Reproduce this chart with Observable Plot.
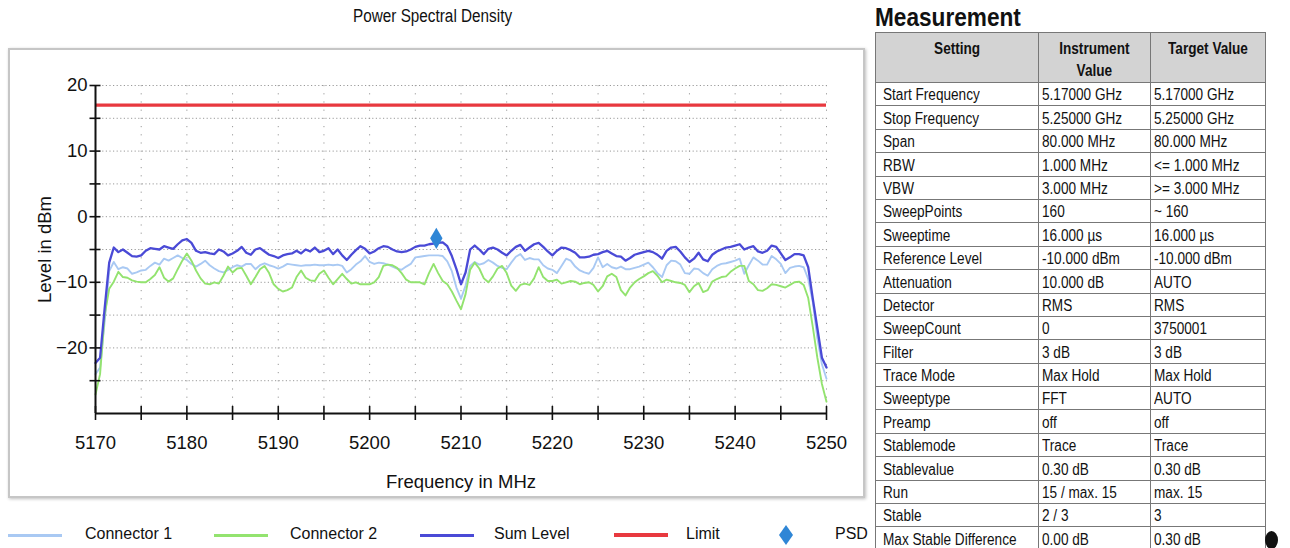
<!DOCTYPE html>
<html>
<head>
<meta charset="utf-8">
<script src="https://cdn.jsdelivr.net/npm/d3@7"></script>
<script src="https://cdn.jsdelivr.net/npm/@observablehq/plot@0.6"></script>
<style>
  html, body { margin: 0; padding: 0; }
  body { width: 1290px; height: 548px; overflow: hidden; background: #fff; position: relative;
         font-family: "Liberation Sans", Arial, sans-serif; color: #111; }
  .nx { display: inline-block; transform: scaleX(0.85); transform-origin: left center; white-space: nowrap; }
  .nxc { display: inline-block; transform: scaleX(0.85); transform-origin: center center; white-space: nowrap; }
  #title { position: absolute; left: 0; width: 866px; top: 6px; text-align: center; font-size: 18px; }
  #frame { position: absolute; left: 8px; top: 48px; width: 853px; height: 446px; border: 2px solid #c6c6c6;
           box-shadow: 1px 1px 3px rgba(0,0,0,0.25); }
  #chart { position: absolute; left: 0; top: 0; }
  #legend { position: absolute; left: 0; top: 520px; width: 880px; height: 28px; font-size: 16px; }
  .lg-line { position: absolute; top: 14px; height: 3px; width: 54px; }
  .lg-text { position: absolute; top: 5px; white-space: nowrap; }
  .lg-diamond { position: absolute; left: 779px; top: 5px; width: 14px; height: 20px; background: #2f86d6;
                clip-path: polygon(50% 0, 100% 50%, 50% 100%, 0 50%); }
  #mtitle { position: absolute; left: 875px; top: 2px; font-size: 26px; font-weight: bold; }
  #mtable { position: absolute; left: 875px; top: 32px; width: 390px; border-collapse: collapse; font-size: 16px; table-layout: fixed; }
  #mtable td, #mtable th { border: 1px solid #777; padding: 0 3px; white-space: nowrap; overflow: hidden; }
  #mtable th { background: #d3d3d3; font-weight: bold; height: 48px; vertical-align: top; padding-top: 5px;
               line-height: 22px; box-sizing: border-box; }
  #mtable td { height: 23.4px; box-sizing: border-box; vertical-align: bottom; line-height: 18px; padding-bottom: 1px; }
  #mtable td:first-child { padding-left: 7px; }
  #blob { position: absolute; left: 1265px; top: 531px; width: 13px; height: 18px; border-radius: 50%; background: #111; }
</style>
</head>
<body>
<div id="title"><span class="nxc">Power Spectral Density</span></div>
<div id="frame"></div>
<div id="chart"></div>
<div id="legend"></div>
<div id="mtitle"><span class="nx" style="transform: scaleX(0.87)">Measurement</span></div>
<table id="mtable"></table>
<div id="blob"></div>
<script>
// ---------- data ----------
const freqMHz = d3.range(5170, 5250.25, 0.5); // 161 sweep points, 5170 .. 5250 MHz

const sumLevel = [
  -22.3, -21.5, -14, -7, -4.7, -5.4, -5.0, -5.5, -6.0, -6.1,
  -5.9, -5.2, -4.8, -4.9, -5.0, -4.5, -4.7, -4.9, -4.2, -3.6,
  -3.4, -4.0, -5.2, -5.5, -5.4, -5.6, -5.7, -5.0, -5.3, -5.9,
  -5.6, -5.2, -4.6, -5.5, -5.8, -5.0, -4.8, -5.3, -5.8, -6.0,
  -6.3, -5.9, -5.7, -5.6, -5.2, -5.6, -5.0, -5.3, -4.7, -5.4,
  -5.2, -4.8, -5.7, -5.0, -5.9, -6.6, -5.8, -5.1, -4.5, -4.9,
  -5.6, -5.3, -4.8, -4.5, -4.6, -5.0, -5.3, -5.4, -5.3, -5.0,
  -4.6, -4.4, -4.4, -4.2, -4.1, -4.0, -3.9, -4.5, -6.0, -8.0,
  -10.3, -8.5, -5.0, -4.4, -5.0, -5.7, -4.9, -4.7, -5.0, -5.5,
  -5.9, -5.2, -4.6, -4.3, -5.2, -4.7, -4.2, -4.0, -4.6, -5.3,
  -5.9, -5.2, -4.7, -4.8, -5.1, -5.5, -6.2, -6.2, -6.1, -5.8,
  -5.7, -5.4, -5.2, -5.6, -6.0, -6.1, -6.7, -6.3, -5.8, -5.6,
  -5.4, -5.2, -5.4, -5.8, -6.4, -5.2, -4.7, -4.6, -5.3, -6.2,
  -6.9, -6.4, -5.5, -6.5, -6.8, -5.8, -5.3, -5.0, -4.7, -4.6,
  -4.4, -4.2, -5.0, -4.7, -4.5, -5.3, -5.5, -5.2, -4.4, -4.6,
  -5.6, -6.6, -6.2, -5.7, -5.7, -5.9, -7.7, -12.5, -17, -21.5,
  -23.0
];

const connector1 = [
  -24.0, -23.0, -16, -8.3, -6.9, -8.0, -7.7, -7.9, -8.7, -8.5,
  -8.2, -8.1, -7.5, -7.0, -7.3, -6.4, -6.7, -6.3, -5.9, -6.3,
  -6.6, -7.2, -7.6, -7.2, -6.7, -7.4, -7.9, -8.3, -8.5, -8.1,
  -7.7, -7.4, -7.6, -7.2, -7.2, -8.0, -7.4, -7.1, -7.4, -7.6,
  -7.9, -7.6, -7.2, -7.3, -7.4, -7.5, -7.4, -7.4, -7.3, -7.4,
  -7.4, -7.3, -7.4, -7.3, -7.5, -8.5, -8.0, -7.3, -6.8, -6.0,
  -6.9, -7.2, -7.0, -7.1, -7.3, -7.6, -7.9, -8.1, -7.6, -7.2,
  -6.2, -6.1, -6.0, -5.9, -5.9, -5.9, -6.0, -6.8, -8.3, -10.8,
  -12.5, -10.5, -7.5, -6.9, -7.3, -7.1, -6.6, -7.0, -7.5, -7.8,
  -8.0, -7.0, -6.1, -5.7, -6.6, -6.3, -6.5, -6.5, -7.4, -7.9,
  -8.1, -8.6, -7.5, -6.4, -6.7, -7.6, -8.2, -8.5, -8.7, -7.8,
  -6.2, -7.7, -7.2, -7.7, -7.9, -7.6, -8.0, -8.0, -7.8, -7.6,
  -7.3, -7.0, -7.7, -8.6, -9.2, -7.4, -6.7, -6.8, -7.3, -8.6,
  -8.7, -7.9, -8.0, -8.6, -9.0, -8.0, -7.5, -7.2, -7.1, -6.9,
  -6.7, -6.4, -8.7, -7.4, -6.2, -6.7, -7.3, -7.3, -6.0, -6.5,
  -7.2, -8.6, -7.8, -7.6, -7.5, -7.7, -9.5, -13.0, -18.5, -22.5,
  -24.7
];

const connector2 = [
  -27.1, -24, -15, -11, -9.9, -8.4, -9.2, -9.3, -9.7, -9.9,
  -10.0, -10.0, -9.5, -8.9, -7.7, -9.3, -9.9, -9.4, -8.0, -6.7,
  -5.6, -6.7, -8.2, -9.4, -10.2, -10.3, -10.0, -10.2, -9.0, -7.6,
  -8.5, -7.9, -7.8, -9.0, -10.3, -9.2, -8.0, -7.5, -8.6, -10.3,
  -11.0, -11.4, -11.2, -10.8, -9.2, -8.2, -9.3, -9.7, -9.8, -8.7,
  -8.2, -9.3, -10.3, -9.5, -8.7, -9.5, -10.2, -10.0, -10.3, -10.3,
  -10.3, -10.0, -9.2, -7.5, -7.3, -7.4, -7.8, -8.6, -9.6, -10.0,
  -10.0, -10.0, -10.3, -8.6, -7.2, -8.6, -9.8, -10.3, -11.4, -12.8,
  -14.1, -11.8, -8.1, -7.0, -7.9, -9.4, -10.0, -9.1, -7.9, -7.5,
  -8.6, -10.5, -11.3, -10.4, -10.2, -10.4, -9.4, -7.7, -9.2, -9.8,
  -9.8, -9.6, -10.2, -10.0, -9.8, -9.9, -10.3, -10.1, -10.0, -10.4,
  -11.4, -10.6, -9.1, -8.7, -9.2, -11.2, -12.0, -10.8, -10.0, -9.5,
  -9.1, -8.6, -8.3, -9.0, -10.0, -9.6, -9.8, -10.0, -10.1, -10.4,
  -11.5, -10.6, -10.1, -11.5, -11.2, -9.9, -9.5, -9.2, -9.1, -8.4,
  -7.9, -7.5, -7.5, -9.8, -10.3, -11.2, -11.3, -10.9, -10.3, -10.4,
  -10.6, -10.8, -10.4, -10.0, -9.9, -10.4, -12.4, -16.8, -21.5, -25.5,
  -28.2
];

const limitLevel = 17;
const psdFreq = [5207.3];
const psdLevel = [-3.3];

const xGridTicks = [5175, 5180, 5185, 5190, 5195, 5200, 5205, 5210, 5215, 5220, 5225, 5230, 5235, 5240, 5245, 5250];
const xTickMarks = [5170, 5175, 5180, 5185, 5190, 5195, 5200, 5205, 5210, 5215, 5220, 5225, 5230, 5235, 5240, 5245, 5250];
const xTickLabels = [5170, 5180, 5190, 5200, 5210, 5220, 5230, 5240, 5250];
const yGridTicks = [-25, -20, -15, -10, -5, 0, 5, 10, 15, 20];
const yTickMarks = [-25, -20, -15, -10, -5, 0, 5, 10, 15, 20];
const yTickLabels = [-20, -10, 0, 10, 20];

const seriesNames = ["Connector 1", "Connector 2", "Sum Level", "Limit", "PSD"];
const seriesColors = ["#a9c9f3", "#93e36f", "#4a4ad6", "#e8393f", "#2f86d6"];

const tableHeader = ["Setting", "Instrument<br>Value", "Target Value"];
const settingNames = ["Start Frequency", "Stop Frequency", "Span", "RBW", "VBW", "SweepPoints", "Sweeptime",
  "Reference Level", "Attenuation", "Detector", "SweepCount", "Filter", "Trace Mode", "Sweeptype", "Preamp",
  "Stablemode", "Stablevalue", "Run", "Stable", "Max Stable Difference"];
const instrumentValues = ["5.17000 GHz", "5.25000 GHz", "80.000 MHz", "1.000 MHz", "3.000 MHz", "160", "16.000 µs",
  "-10.000 dBm", "10.000 dB", "RMS", "0", "3 dB", "Max Hold", "FFT", "off", "Trace", "0.30 dB", "15 / max. 15", "2 / 3", "0.00 dB"];
const targetValues = ["5.17000 GHz", "5.25000 GHz", "80.000 MHz", "<= 1.000 MHz", ">= 3.000 MHz", "~ 160", "16.000 µs",
  "-10.000 dBm", "AUTO", "RMS", "3750001", "3 dB", "Max Hold", "AUTO", "off", "Trace", "0.30 dB", "max. 15", "3", "0.30 dB"];

// ---------- chart ----------
const rows = freqMHz.map((f, i) => ({f, c1: connector1[i], c2: connector2[i], s: sumLevel[i]}));
const psd = psdFreq.map((f, i) => ({f, v: psdLevel[i]}));
const fontFam = '"Liberation Sans", Arial, sans-serif';

const chart = Plot.plot({
  width: 870,
  height: 500,
  marginLeft: 95,
  marginRight: 44,
  marginTop: 85,
  marginBottom: 87,
  x: {domain: [5170, 5250]},
  y: {domain: [-30, 20]},
  style: {fontFamily: fontFam, fontSize: "18.5px", background: "transparent", color: "#111", overflow: "visible"},
  marks: [
    Plot.gridY(yGridTicks, {stroke: "#9a9a9a", strokeOpacity: 1, strokeWidth: 1, strokeDasharray: "1.2,2.4"}),
    Plot.gridX(xGridTicks, {stroke: "#9a9a9a", strokeOpacity: 1, strokeWidth: 1, strokeDasharray: "1.2,7"}),
    Plot.ruleY([limitLevel], {stroke: seriesColors[3], strokeWidth: 3.2}),
    Plot.line(rows, {x: "f", y: "c1", stroke: seriesColors[0], strokeWidth: 1.9}),
    Plot.line(rows, {x: "f", y: "c2", stroke: seriesColors[1], strokeWidth: 1.9}),
    Plot.line(rows, {x: "f", y: "s", stroke: seriesColors[2], strokeWidth: 2.3}),
    Plot.dot(psd, {x: "f", y: "v", symbol: "diamond", r: 6.5, fill: seriesColors[4], stroke: "none"}),
    Plot.ruleX([5170], {stroke: "#111", strokeWidth: 2}),
    Plot.ruleY([-30], {stroke: "#111", strokeWidth: 2}),
    Plot.axisY(yTickMarks, {anchor: "left", tickSize: 11, dx: 5.5, tickFormat: () => "", label: null, stroke: "#111", strokeWidth: 1.6}),
    Plot.axisY(yTickLabels, {anchor: "left", tickSize: 0, tickPadding: 8, label: "Level in dBm", labelAnchor: "center",
      labelArrow: "none", labelOffset: 58, fill: "#111"}),
    Plot.axisX(xTickMarks, {anchor: "bottom", tickSize: 14, dy: -7, tickFormat: () => "", label: null, stroke: "#111", strokeWidth: 1.6}),
    Plot.axisX(xTickLabels, {anchor: "bottom", tickSize: 0, tickPadding: 22, tickFormat: d => String(d), label: "Frequency in MHz",
      labelAnchor: "center", labelArrow: "none", labelOffset: 74, fill: "#111"})
  ]
});
document.getElementById("chart").appendChild(chart);

// ---------- legend ----------
const legend = document.getElementById("legend");
const lineLeft = [8, 214, 420, 614];
const textLeft = [85, 290, 494, 686];
for (let i = 0; i < 4; i++) {
  const ln = document.createElement("div");
  ln.className = "lg-line";
  ln.style.left = lineLeft[i] + "px";
  ln.style.background = seriesColors[i];
  if (i === 3) { ln.style.height = "4px"; ln.style.top = "13px"; }
  legend.appendChild(ln);
  const tx = document.createElement("div");
  tx.className = "lg-text";
  tx.style.left = textLeft[i] + "px";
  tx.textContent = seriesNames[i];
  legend.appendChild(tx);
}
const dm = document.createElement("div");
dm.className = "lg-diamond";
legend.appendChild(dm);
const psdTxt = document.createElement("div");
psdTxt.className = "lg-text";
psdTxt.style.left = "835px";
psdTxt.textContent = seriesNames[4];
legend.appendChild(psdTxt);

// ---------- table ----------
const table = document.getElementById("mtable");
const colW = [163, 112, 115];
const cg = document.createElement("colgroup");
colW.forEach(w => { const c = document.createElement("col"); c.style.width = w + "px"; cg.appendChild(c); });
table.appendChild(cg);
const hr = document.createElement("tr");
tableHeader.forEach(h => {
  const th = document.createElement("th");
  const sp = document.createElement("span"); sp.className = "nxc"; sp.innerHTML = h;
  th.appendChild(sp); hr.appendChild(th);
});
table.appendChild(hr);
settingNames.forEach((s, i) => {
  const tr = document.createElement("tr");
  [s, instrumentValues[i], targetValues[i]].forEach(v => {
    const td = document.createElement("td");
    const sp = document.createElement("span"); sp.className = "nx"; sp.textContent = v;
    td.appendChild(sp); tr.appendChild(td);
  });
  table.appendChild(tr);
});
</script>
</body>
</html>
